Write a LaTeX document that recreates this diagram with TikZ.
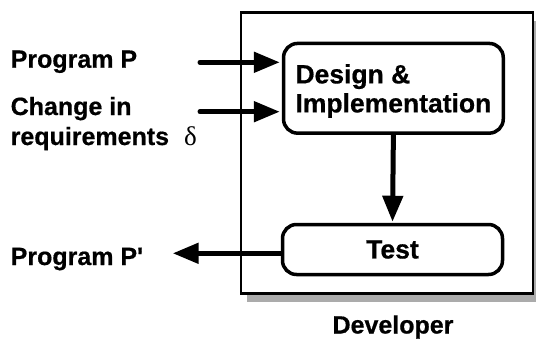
\documentclass[tikz,border=0pt]{standalone}
\usepackage{fontspec}
\setmainfont{Liberation Sans}[BoldFeatures={FakeBold=0.6}]
\newfontfamily\greekserif{Liberation Serif}
\usetikzlibrary{arrows.meta}
\begin{document}
\begin{tikzpicture}[x=1pt,y=-1pt,
  stage/.style={draw, line width=3.5pt, rounded corners=14pt, fill=white,
    inner sep=0pt, align=left, font=\bfseries\fontsize{26.5}{29}\selectfont},
  flowarrow/.style={line width=5pt, line cap=round,
    -{Triangle[length=26pt,width=20pt]}},
  txt/.style={font=\bfseries\fontsize{25}{29}\selectfont, inner sep=0pt,
    anchor=base west}]
\useasboundingbox (0,0) rectangle (536,340);

% developer frame with its drop shadow
\fill[black!33] (247,20.7) rectangle (538.7,301.7);
\node[draw, line width=2.5pt, fill=white, inner sep=0pt,
  minimum width=291.7pt, minimum height=281pt] (dev) at (386.9,153.2) {};

% activities inside the frame
\node[stage, minimum width=219.7pt, minimum height=89.7pt, text depth=0pt]
  (design) at (393.4,88.3) {Design \&\\Implementation};
\node[stage, minimum width=220pt, minimum height=50pt]
  (test) at (392.5,249.5) {Test};

% inputs and output
\node[txt] (progP) at (10.5,67.7) {Program P};
\node[txt] (change) at (10.5,115) {Change in};
\node[txt] (reqs) at (10.5,145)
  {requirements\hspace{0.6em}{\greekserif\mdseries\fontsize{27}{29}\selectfont δ}};
\node[txt] (progPp) at (10.5,265) {Program P\textquotesingle};
\node[font=\bfseries\fontsize{25}{29}\selectfont, inner sep=0pt, anchor=base]
  (devlabel) at (393,333.5) {Developer};

\coordinate (inP) at (200,62.3);
\coordinate (inD) at (200,111.7);
\coordinate (outP) at (172.7,253.3);

\draw[flowarrow, shorten >=2pt] (inP) -- (inP -| design.west);
\draw[flowarrow, shorten >=2pt] (inD) -- (inD -| design.west);
\draw[flowarrow, shorten >=1pt] (design.south) -- (test.north);
\draw[flowarrow] (test.west |- outP) -- (outP);
\end{tikzpicture}
\end{document}
